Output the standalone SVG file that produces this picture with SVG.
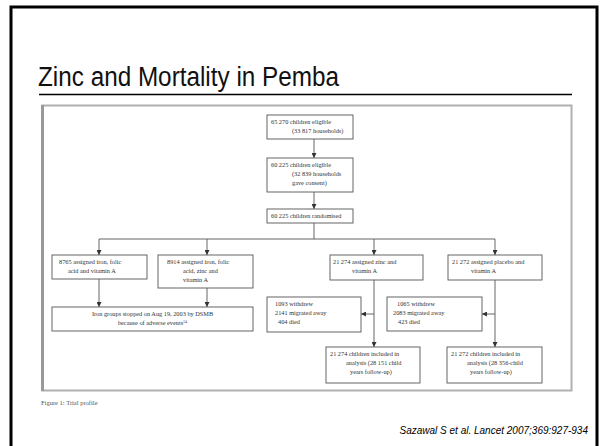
<svg xmlns="http://www.w3.org/2000/svg" width="600" height="446" viewBox="0 0 600 446">
<defs>
<marker id="ah" viewBox="0 0 10 10" refX="10" refY="5" markerWidth="5" markerHeight="5" orient="auto" markerUnits="userSpaceOnUse">
<path d="M0,0 L10,5 L0,10 z" fill="#333"/>
</marker>
<style>
.box{fill:#fff;stroke:#555;stroke-width:0.9}
.t{font-family:"Liberation Serif","DejaVu Serif",serif;font-size:6.3px;fill:#333}
.c{stroke:#555;stroke-width:0.9;fill:none}
.a{marker-end:url(#ah)}
</style>
</defs>
<rect x="0" y="0" width="600" height="446" fill="#fff"/>
<rect x="11" y="7" width="586" height="445" fill="none" stroke="#000" stroke-width="3"/>
<text x="38" y="86" font-family="'Liberation Sans',Arial,sans-serif" font-size="27" fill="#111" textLength="301" lengthAdjust="spacingAndGlyphs">Zinc and Mortality in Pemba</text>
<line x1="39" y1="94.5" x2="572" y2="94.5" stroke="#000" stroke-width="1.3"/>
<g id="figure-frame">
<rect x="42.5" y="105.5" width="529" height="285" fill="#fff" stroke="#b0b0b0" stroke-width="2"/>
<line x1="42.5" y1="105" x2="42.5" y2="391" stroke="#999" stroke-width="3"/>
</g>
<g id="connectors">
<line class="c a" x1="314" y1="139" x2="314" y2="158"/>
<line class="c a" x1="314" y1="192" x2="314" y2="209"/>
<line class="c" x1="314" y1="223" x2="314" y2="239"/>
<line class="c" x1="99" y1="239" x2="495" y2="239"/>
<line class="c a" x1="99" y1="239" x2="99" y2="255"/>
<line class="c a" x1="207" y1="239" x2="207" y2="255"/>
<line class="c a" x1="374" y1="239" x2="374" y2="255"/>
<line class="c a" x1="495" y1="239" x2="495" y2="255"/>
<line class="c a" x1="99" y1="279" x2="99" y2="307"/>
<line class="c a" x1="207" y1="288" x2="207" y2="307"/>
<line class="c a" x1="374" y1="280" x2="374" y2="347"/>
<line class="c a" x1="495" y1="280" x2="495" y2="347"/>
<line class="c a" x1="374" y1="314" x2="361" y2="314"/>
<line class="c a" x1="495" y1="314" x2="482" y2="314"/>
</g>
<g id="n1">
<rect class="box" x="267" y="115" width="86" height="24"/>
<text class="t" x="271" y="124">65 270 children eligible</text>
<text class="t" x="292" y="133">(33 817 households)</text>
</g>
<g id="n2">
<rect class="box" x="267" y="158" width="86" height="34"/>
<text class="t" x="271" y="167">60 225 children eligible</text>
<text class="t" x="292" y="176">(32 839 households</text>
<text class="t" x="292" y="185">gave consent)</text>
</g>
<g id="n3">
<rect class="box" x="267" y="209" width="86" height="14"/>
<text class="t" x="271" y="218">60 225 children randomised</text>
</g>
<g id="n4">
<rect class="box" x="52" y="255" width="95" height="24"/>
<text class="t" x="59" y="264">8765 assigned iron, folic</text>
<text class="t" x="68" y="273">acid and vitamin A</text>
</g>
<g id="n5">
<rect class="box" x="158" y="255" width="95" height="33"/>
<text class="t" x="167" y="264">8914 assigned iron, folic</text>
<text class="t" x="183" y="273">acid, zinc and</text>
<text class="t" x="183" y="282">vitamin A</text>
</g>
<g id="n6">
<rect class="box" x="52" y="307" width="201" height="24"/>
<text class="t" x="152.5" y="316" text-anchor="middle">Iron groups stopped on Aug 19, 2003 by DSMB</text>
<text class="t" x="152.5" y="325" text-anchor="middle">because of adverse events<tspan font-size="4" dy="-2">14</tspan></text>
</g>
<g id="n7">
<rect class="box" x="330" y="255" width="93" height="25"/>
<text class="t" x="333" y="264">21 274 assigned zinc and</text>
<text class="t" x="352" y="273">vitamin A</text>
</g>
<g id="n8">
<rect class="box" x="448" y="255" width="94" height="25"/>
<text class="t" x="452" y="264">21 272 assigned placebo and</text>
<text class="t" x="471" y="273">vitamin A</text>
</g>
<g id="n9">
<rect class="box" x="267" y="297" width="94" height="35"/>
<text class="t" x="275" y="306">1093 withdrew</text>
<text class="t" x="275" y="315">2141 migrated away</text>
<text class="t" x="278" y="324">404 died</text>
</g>
<g id="n10">
<rect class="box" x="387" y="297" width="95" height="34"/>
<text class="t" x="397" y="306">1065 withdrew</text>
<text class="t" x="393" y="315">2083 migrated away</text>
<text class="t" x="398" y="324">423 died</text>
</g>
<g id="n11">
<rect class="box" x="326" y="347" width="94" height="36"/>
<text class="t" x="330" y="356">21 274 children included in</text>
<text class="t" x="346" y="365">analysis (28 151 child</text>
<text class="t" x="350" y="374">years follow-up)</text>
</g>
<g id="n12">
<rect class="box" x="447" y="347" width="95" height="36"/>
<text class="t" x="451" y="356">21 272 children included in</text>
<text class="t" x="467" y="365">analysis (28 356-child</text>
<text class="t" x="470" y="374">years follow-up)</text>
</g>
<text x="41" y="405" font-family="'Liberation Serif','DejaVu Serif',serif" font-size="6.5" fill="#555">Figure 1: Trial profile</text>
<text x="588" y="434" text-anchor="end" font-family="'Liberation Sans',Arial,sans-serif" font-size="10" font-style="italic" fill="#000">Sazawal S et al. Lancet 2007;369:927-934</text>
</svg>
